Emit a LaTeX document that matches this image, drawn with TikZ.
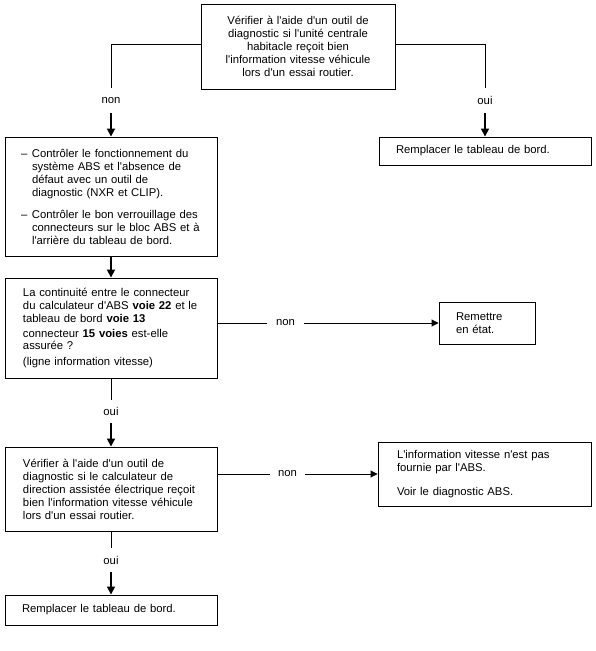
\documentclass[tikz,border=0pt]{standalone}
\usepackage{fontspec}
\setmainfont{Liberation Sans}[Ligatures=TeXOff]
\usetikzlibrary{arrows.meta}
\begin{document}
\begin{tikzpicture}[x=1pt,y=-1pt,
  box/.style={draw,line width=0.9pt,inner ysep=0pt,align=left,font=\fontsize{11.3}{13}\selectfont},
  lab/.style={inner sep=0pt,font=\fontsize{11.3}{13}\selectfont},
  thinline/.style={line width=0.9pt},
  varr/.style={line width=1.7pt,-{Triangle[length=8pt,width=8pt]}},
  harr/.style={line width=0.9pt,-{Triangle[length=7pt,width=7pt]}}]
\useasboundingbox (0,0) rectangle (596,651);

% boxes
\node[box,align=center,inner xsep=8pt,text width=178pt,minimum height=85pt] (top) at (298,46.5)
  {Vérifier à l'aide d'un outil de\\diagnostic si l'unité centrale\\habitacle reçoit bien\\l'information vitesse véhicule\\lors d'un essai routier.};

\node[box,inner xsep=16pt,text width=180pt,minimum height=119pt] (b2) at (111,196.5)
  {\makebox[11pt][l]{–}Contrôler le fonctionnement du\\
   \hspace*{11pt}système ABS et l'absence de\\
   \hspace*{11pt}défaut avec un outil de\\
   \hspace*{11pt}diagnostic (NXR et CLIP).\\[9pt]
   \makebox[11pt][l]{–}Contrôler le bon verrouillage des\\
   \hspace*{11pt}connecteurs sur le bloc ABS et à\\
   \hspace*{11pt}l'arrière du tableau de bord.};

\node[box,inner xsep=17pt,text width=178pt,minimum height=28pt] (b3) at (485,151)
  {Remplacer le tableau de bord.};

\node[box,inner xsep=18pt,text width=176pt,minimum height=100pt] (b4) at (111,328)
  {La continuité entre le connecteur\\
   du calculateur d'ABS \textbf{voie 22} et le\\
   tableau de bord \textbf{voie 13}\\[2pt]
   connecteur \textbf{15 voies} est-elle\\[-1pt]
   assurée ?\\[3pt]
   (ligne information vitesse)};

\node[box,inner xsep=17pt,text width=62pt,minimum height=42pt] (b5) at (487,323)
  {Remettre\\en état.};

\node[box,inner xsep=18pt,text width=176pt,minimum height=84pt] (b6) at (111,489)
  {Vérifier à l'aide d'un outil de\\
   diagnostic si le calculateur de\\
   direction assistée électrique reçoit\\
   bien l'information vitesse véhicule\\
   lors d'un essai routier.};

\node[box,inner xsep=19pt,text width=175pt,minimum height=64pt] (b7) at (484.5,474)
  {L'information vitesse n'est pas\\
   fournie par l'ABS.\\[11pt]
   Voir le diagnostic ABS.};

\node[box,inner xsep=17pt,text width=178pt,minimum height=30pt] (b8) at (111,610)
  {Remplacer le tableau de bord.};

% labels
\node[lab,minimum height=25pt] (l1) at (111,100.5) {non};
\node[lab,minimum height=25pt] (l2) at (485,100.5) {oui};
\node[lab,minimum width=37pt] (l3) at (285.5,323) {non};
\node[lab,minimum height=23pt] (l4) at (111,411.5) {oui};
\node[lab,minimum width=35pt] (l5) at (287.5,474) {non};
\node[lab,minimum height=24pt] (l6) at (111,560) {oui};

% connectors
\draw[thinline] ([yshift=2.5pt]top.west) -| (l1.north);
\draw[varr] (l1.south) -- (b2.north);
\draw[thinline] ([yshift=2.5pt]top.east) -| (l2.north);
\draw[varr] (l2.south) -- (b3.north);
\draw[varr] (b2.south) -- (b4.north);
\draw[thinline] (b4.east |- l3.west) -- (l3.west);
\draw[harr] (l3.east) -- (b5.west);
\draw[thinline] (b4.south) -- (l4.north);
\draw[varr] (l4.south) -- (b6.north);
\draw[thinline] (b6.east |- l5.west) -- (l5.west);
\draw[harr] (l5.east) -- (b7.west);
\draw[thinline] (b6.south) -- (l6.north);
\draw[varr] (l6.south) -- (b8.north);
\end{tikzpicture}
\end{document}
